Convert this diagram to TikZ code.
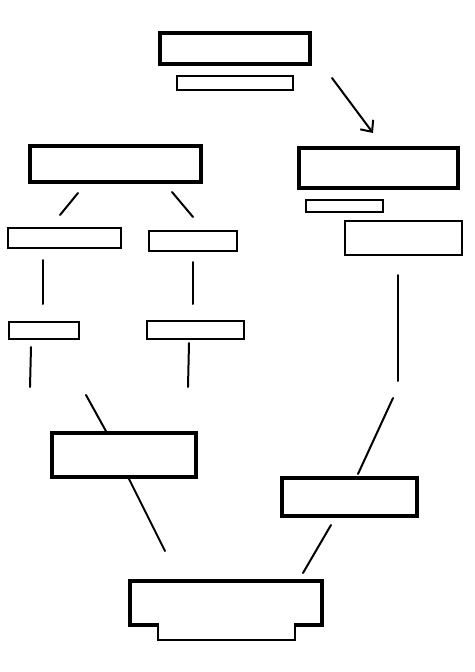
\documentclass[tikz,border=0pt]{standalone}
\usetikzlibrary{arrows.meta}
\begin{document}
\begin{tikzpicture}[x=1pt,y=-1pt,
  box/.style={draw=black, fill=white, inner sep=0pt, outer sep=0pt, anchor=north west},
  heavy/.style={box, line width=3.6pt},
  medium/.style={box, line width=2.4pt},
  light/.style={box, line width=1.9pt},
  link/.style={line width=2pt, line cap=round},
]
\useasboundingbox (0,0) rectangle (474,672);
% top
\node[heavy, minimum width=150pt, minimum height=31pt] (top) at (160,33) {};
\node[light, minimum width=116pt, minimum height=14pt] (topsub) at (177,76) {};
% left column
\node[heavy, minimum width=171pt, minimum height=36pt] (lbig) at (30,146) {};
\node[medium, minimum width=113pt, minimum height=20pt] (l1) at (8,228) {};
\node[medium, minimum width=88pt, minimum height=20pt] (r1) at (149,231) {};
\node[medium, minimum width=70pt, minimum height=17pt] (l2) at (9,322) {};
\node[medium, minimum width=97pt, minimum height=18pt] (r2) at (147,321) {};
% right column
\node[heavy, minimum width=159pt, minimum height=40pt] (rbig) at (299,148) {};
\node[light, minimum width=77pt, minimum height=12pt] (rsub) at (306,200) {};
\node[medium, minimum width=117pt, minimum height=34pt] (rbox) at (345,221) {};
% lower
\node[heavy, minimum width=144pt, minimum height=44pt] (mid) at (52,433) {};
\node[heavy, minimum width=135pt, minimum height=38pt] (rmid) at (282,478) {};
% bottom shape
\draw[line width=3.4pt, line join=miter] (158,625) -- (130,625) -- (130,581) -- (322,581) -- (322,625) -- (295,625);
\draw[line width=2pt] (158,623) -- (158,640) -- (295,640) -- (295,623);
\coordinate (bottom) at (226,581);
% free-end coordinates
\coordinate (a1) at (332,78);   \coordinate (a2) at (373,133);
\coordinate (b1) at (78,193);   \coordinate (b2) at (60,215);
\coordinate (c1) at (172,192);  \coordinate (c2) at (193,217);
\coordinate (d1) at (43,260);   \coordinate (d2) at (43,304);
\coordinate (e1) at (193,262);  \coordinate (e2) at (193,304);
\coordinate (f1) at (31,347);   \coordinate (f2) at (30,387);
\coordinate (g1) at (189,343);  \coordinate (g2) at (188,387);
\coordinate (h1) at (398,275);  \coordinate (h2) at (398,381);
\coordinate (i1) at (86,395);   \coordinate (i2) at (107,433);
\coordinate (j1) at (128,477);  \coordinate (j2) at (165,551);
\coordinate (k1) at (393,398);  \coordinate (k2) at (358,474);
\coordinate (m1) at (331,525);  \coordinate (m2) at (303,573);
% connectors
\draw[link, -{Straight Barb[length=9pt,width=16pt,line width=2pt]}] (a1) -- (a2);
\draw[link] (b1) -- (b2);
\draw[link] (c1) -- (c2);
\draw[link] (d1) -- (d2);
\draw[link] (e1) -- (e2);
\draw[link] (f1) -- (f2);
\draw[link] (g1) -- (g2);
\draw[link] (h1) -- (h2);
\draw[link] (i1) -- (i2);
\draw[link] (j1) -- (j2);
\draw[link] (k1) -- (k2);
\draw[link] (m1) -- (m2);
\end{tikzpicture}
\end{document}
